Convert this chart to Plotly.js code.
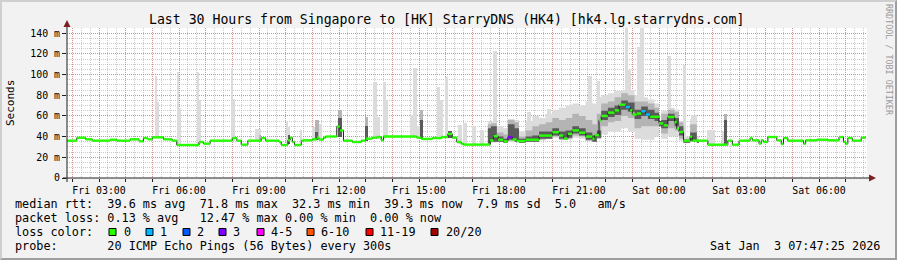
<!DOCTYPE html>
<html><head><meta charset="utf-8">
<script src="https://cdn.plot.ly/plotly-3.0.1.min.js"></script>
<style>
html,body{margin:0;padding:0;background:#f2f2f2;}
#wrap{position:relative;width:897px;height:260px;overflow:hidden;}
#chart{position:absolute;left:0;top:0;width:897px;height:260px;}
#frame{position:absolute;left:0;top:0;width:897px;height:260px;box-sizing:border-box;border-style:solid;border-width:2px;border-color:#cfcfcf #9e9e9e #9e9e9e #cfcfcf;pointer-events:none;}
</style></head><body>
<div id="wrap"><div id="chart"></div><div id="frame"></div></div>
<script>
// ---------- DATA (time = minutes since Fri 2026-01-02 00:00) ----------
const TITLE = 'Last 30 Hours from Singapore to [HK] StarryDNS (HK4) [hk4.lg.starrydns.com]';
const START_MIN = 108, END_MIN = 1908;

// median rtt (ms), step segments starting at medT
const medT = [108,130,150,165,205,220,250,270,280,290,300,325,345,355,405,415,430,480,490,500,515,545,555,
  585,590,605,610,615,620,635,640,660,670,675,685,690,715,722,730,750,770,780,795,805,815,820,895,905,930,950,965,975,985,995,
  1000,1060,1068,1078,1090,1100,1110,1120,1140,1170,1200,1215,1225,1235,1245,1260,1275,1290,1295,1305,1310,1325,1340,1350,
  1365,1375,1380,1390,1400,1410,1420,1440,1450,1460,1475,1480,1485,1495,1510,1515,1550,1595,1605,1620,1645,1650,1665,1670,
  1675,1685,1705,1715,1720,1730,1765,1770,1795,1820,1845,1855,1860,1865,1875,1895,1905];
const medV = [36.1,38.9,37.4,36.1,37.0,36.1,37.4,35.5,38.6,37.4,39.3,37.4,36.1,31.9,34.8,33.2,36.1,38.6,36.1,32.2,36.1,38.6,36.1,
  34.8,31.9,36.4,39.0,34.8,31.9,36.1,36.4,37.4,39.0,37.2,39.0,40.1,49.8,46.0,36.1,34.8,36.1,38.0,39.0,39.6,36.4,40.1,39.0,37.8,38.6,39.6,42.6,39.0,34.8,33.2,
  32.3,36.3,40.4,37.0,35.4,39.4,37.2,35.7,37.0,41.0,44.3,41.0,38.0,42.7,46.0,43.8,40.1,38.0,41.4,55.9,60.0,63.2,65.4,70.9,
  68.6,65.4,61.4,62.4,64.6,61.4,59.2,52.8,50.9,59.0,54.1,47.7,44.5,36.1,40.0,36.1,32.2,36.1,32.2,36.1,38.6,36.4,33.2,36.4,
  34.8,39.6,36.4,32.8,38.6,36.1,33.2,36.4,37.0,36.4,39.6,34.8,33.2,38.6,36.1,39.0,39.0];
// lost pings (of 20) for segments that were not loss-free
const lossT = [1100,1365,1400,1410];
const lossN = [3,1,1,1];

// smoke band in the busy period (ms)
const bandT      = [1055,1062,1075,1090,1100,1115,1125,1140,1155,1170,1185,1200,1215,1230,1245,1260,1275,1290,1300,1310,1325,1340,1355,1370,1385,1400,1415,1430,1440,1445,1460,1475,1485,1495,1510,1525,1530];
const bandLightLo= [33,34,35,34,35,35,34,35,35,37,38,39,37,37,39,38,36,35,38,42,45,45,48,45,38,37,37,40,51,38,40,40,36,34,35,34,34];
const bandLightHi= [55,54,50,48,57,56,45,55,60,58,62,66,68,70,72,70,74,72,78,80,82,84,85,85,80,78,76,72,54,65,68,66,55,40,57,40,40];
const bandMidLo  = [33,35,35,34,36,35,34,35,35,37,38,40,37,38,41,40,36,35,38,50,54,55,60,58,48,50,50,50,50,43,48,46,38,34,35,34,34];
const bandMidHi  = [52,53,44,42,56,54,40,46,50,52,54,58,56,58,62,60,56,52,62,72,74,78,82,80,74,74,72,68,54,62,66,64,54,38,52,37,37];
const bandDarkLo = [33,35,35,34,37,35,34,35,35,38,38,41,38,39,43,41,37,35,39,56,59,61,66,64,57,60,57,55,50,48,55,50,41,34,36,34,34];
const bandDarkHi = [48,50,40,38,52,48,38,40,41,45,45,48,45,46,50,48,44,41,46,65,68,70,75,73,66,69,66,63,55,56,62,58,50,37,44,36,36];

// isolated smoke spikes: start minute, duration (min), low (ms), high (ms)
const lightT = [305,310,355,360,400,405,477,482,530,600,605,632,660,675,797,805,819,826,880,887,895,940,947,958,988,998,1019,1037,1066,1143,1188,1280,1300,1363,1370,1390,1397,1454,1460,1494,1512,1548,1560,1582];
const lightD = [5,5,5,5,5,5,5,5,15,5,5,5,7,7,8,7,7,5,7,8,7,7,7,7,9,9,10,10,9,10,10,9,7,7,8,7,10,6,7,7,13,12,6,6];
const lightLo= [39,39,32,32,32,33,36,36,36,32,34,36,36,37,38,38,38,40,40,40,39,38,38,39,33,33,32,32,36,37,41,40,45,60,60,55,55,45,45,36,36,32,32,32];
const lightHi= [99,73,102,68,102,75,106,76,47,54,49,46,49,52,93,59,93,75,61,106,50,88,75,98,51,53,50,46,123,64,67,99,94,145,104,127,145,62,118,109,61,46,46,45];
const midT  = [667,540,1060,1512,718,778,902,1586];
const midD  = [8,5,5,8,9,7,7,7];
const midLo = [37,36,35,36,40,36,38,33];
const midHi = [56,42,55,56,66,59,66,62];
const darkT = [605,667,718,778,902,965,1586,1512];
const darkD = [5,5,9,7,7,9,7,7];
const darkLo= [33,37,40,36,38,39,33,36];
const darkHi= [42,44,58,50,56,45,56,48];

const yTickVals = [0,20,40,60,80,100,120,140];
const yTickText = ['0','20 m','40 m','60 m','80 m','100 m','120 m','140 m'];
const statRtt  = ['39.6','71.8','32.3','39.3','7.9','5.0'];
const statLoss = ['0.13','12.47','0.00','0.00'];
const lossLabels = ['0','1','2','3','4-5','6-10','11-19','20/20'];
const lossColors = ['#26ff00','#00b8ff','#0059ff','#7e00ff','#ff00ff','#ff5500','#ff0000','#a10000'];
const probeText = '20 ICMP Echo Pings (56 Bytes) every 300s';
const stampText = 'Sat Jan  3 07:47:25 2026';

// ---------- BUILD ----------
const DAY0 = Date.UTC(2026,0,2);
const tm = m => new Date(DAY0 + m*60000).toISOString().replace('T',' ').slice(0,19);
const MONO = 'DejaVu Sans Mono, monospace';
const NB = s => s.replace(/ /g,'\u00a0');
const P = x => (x-67)/800;   // pixel -> paper x
const Q = y => (178-y)/150;  // pixel -> paper y

const traces = [];
function bars(T,D,Lo,Hi,color){
  traces.push({type:'bar', x:T.map((t,i)=>tm(t+D[i]/2)), width:D.map(d=>d*60000),
    base:Lo, y:Hi.map((h,i)=>h-Lo[i]), marker:{color:color, line:{width:0}}, hoverinfo:'skip'});
}
function band(lo,hi,color){
  const x = bandT.map(tm);
  traces.push({type:'scatter', mode:'lines', x:x, y:lo, line:{width:0, shape:'hv'}, hoverinfo:'skip'});
  traces.push({type:'scatter', mode:'lines', x:x, y:hi, line:{width:0, shape:'hv'}, fill:'tonexty', fillcolor:color, hoverinfo:'skip'});
}
const C_LIGHT = '#dcdcdc', C_MID = '#b4b4b4', C_DARK = '#5a5a5a';
bars(lightT,lightD,lightLo,lightHi,C_LIGHT);
band(bandLightLo,bandLightHi,C_LIGHT);
band(bandMidLo,bandMidHi,C_MID);
bars(midT,midD,midLo,midHi,C_MID);
band(bandDarkLo,bandDarkHi,C_DARK);
bars(darkT,darkD,darkLo,darkHi,C_DARK);

// median: thin dark step line + loss-coloured horizontal segments
traces.push({type:'scatter', mode:'lines', x:medT.map(tm), y:medV, line:{color:'#1a1a1a', width:1, shape:'hv'}, hoverinfo:'skip'});
function lossIdx(n){ if(n===0)return 0; if(n<=3)return n; if(n<=5)return 4; if(n<=10)return 5; if(n<=19)return 6; return 7; }
const segs = lossColors.map(()=>({x:[],y:[]}));
for(let i=0;i<medT.length-1;i++){
  const k = lossT.indexOf(medT[i]);
  const c = lossIdx(k<0?0:lossN[k]);
  segs[c].x.push(tm(medT[i]), tm(medT[i+1]), null);
  segs[c].y.push(medV[i], medV[i], null);
}
segs.forEach((s,c)=>{ if(s.x.length) traces.push({type:'scatter', mode:'lines', x:s.x, y:s.y, line:{color:lossColors[c], width:2.4}, connectgaps:false, hoverinfo:'skip'}); });

// x ticks: every hour, labels every 3 hours
const xTickVals = [], xTickText = [];
for(let m=120; m<=1860; m+=60){
  xTickVals.push(tm(m));
  const h = (m/60)%24;
  xTickText.push(h%3===0 ? (m<1440?'Fri ':'Sat ') + String(h).padStart(2,'0') + ':00' : '');
}

const GRID = 'rgba(150,150,150,0.5)', MGRID = 'rgba(235,70,70,0.45)', AXIS = '#1f1f1f';
const ann = (text,x,y,opt={}) => Object.assign({text:NB(text), x:P(x), y:Q(y), xref:'paper', yref:'paper',
  xanchor:'left', yanchor:'middle', showarrow:false, font:{family:MONO,size:11.8,color:'#000'}, borderpad:0}, opt);

const line1 = 'median rtt:  '+statRtt[0]+' ms avg  '+statRtt[1]+' ms max  '+statRtt[2]+' ms min  '+statRtt[3]+' ms now  '+statRtt[4]+' ms sd  '+statRtt[5]+'   am/s';
const line2 = 'packet loss: '+statLoss[0]+' % avg   '+statLoss[1]+' % max '+statLoss[2]+' % min  '+statLoss[3]+' % now';
const line4 = 'probe:       '+probeText;
const boxX = [109,146,183,219,257,307,366,431];
const labX = [122.5,159,195.7,232.3,269.7,320,379,445];

const annotations = [
  ann(line1,14,204.3), ann(line2,14,218.3), ann('loss color:',14,232.3), ann(line4,14,246),
  ann(stampText,881,246,{xanchor:'right'}),
  ann('Seconds',10,103,{xanchor:'center', textangle:-90, font:{family:MONO,size:11,color:'#000'}}),
  ann('RRDTOOL / TOBI OETIKER',889,60,{xanchor:'center', textangle:90, font:{family:MONO,size:8.4,color:'#9a9a9a'}})
];
lossLabels.forEach((l,i)=>annotations.push(ann(l,labX[i],232.3)));

const shapes = [];
boxX.forEach((bx,i)=>shapes.push({type:'rect', xref:'paper', yref:'paper', x0:P(bx), x1:P(bx+7), y0:Q(235.5), y1:Q(228.5),
  line:{color:'#000',width:1}, fillcolor:lossColors[i], layer:'above'}));
// axis extensions and arrows
shapes.push({type:'line', xref:'paper', yref:'paper', x0:P(63), x1:P(870), y0:0, y1:0, line:{color:AXIS,width:1}, layer:'above'});
shapes.push({type:'line', xref:'paper', yref:'paper', x0:0, x1:0, y0:Q(182), y1:Q(26), line:{color:AXIS,width:1}, layer:'above'});
shapes.push({type:'path', xref:'paper', yref:'paper', path:`M${P(869)},${Q(174.5)} L${P(876)},${Q(178)} L${P(869)},${Q(181.5)} Z`, fillcolor:'#7f1f1f', line:{width:0}, layer:'above'});
shapes.push({type:'path', xref:'paper', yref:'paper', path:`M${P(63.5)},${Q(27)} L${P(67)},${Q(20)} L${P(70.5)},${Q(27)} Z`, fillcolor:'#7f1f1f', line:{width:0}, layer:'above'});

const layout = {
  width:897, height:260, margin:{l:67, r:30, t:28, b:82},
  paper_bgcolor:'#f2f2f2', plot_bgcolor:'#ffffff', showlegend:false, barmode:'overlay', bargap:0,
  font:{family:MONO, size:11.8, color:'#000'},
  title:{text:TITLE, font:{family:MONO, size:13.2, color:'#000'}, xref:'container', x:0.498, xanchor:'center', yref:'container', y:1-19/260, yanchor:'middle'},
  xaxis:{type:'date', range:[tm(START_MIN), tm(END_MIN)], tickmode:'array', tickvals:xTickVals, ticktext:xTickText,
    showgrid:true, gridcolor:MGRID, griddash:'1px,1px', gridwidth:1,
    minor:{tick0:tm(0), dtick:20*60000, showgrid:true, gridcolor:GRID, griddash:'1px,1px', gridwidth:1},
    showline:false, zeroline:false, ticks:'outside', ticklen:3, tickcolor:AXIS, tickfont:{family:MONO, size:9.9}, fixedrange:true},
  yaxis:{range:[0,145], tickmode:'array', tickvals:yTickVals, ticktext:yTickText,
    showgrid:true, gridcolor:MGRID, griddash:'1px,1px', gridwidth:1,
    minor:{tick0:0, dtick:5, showgrid:true, gridcolor:GRID, griddash:'1px,1px', gridwidth:1},
    showline:false, zeroline:false, ticks:'outside', ticklen:4, tickcolor:AXIS, tickfont:{family:MONO, size:9.9}, fixedrange:true},
  annotations:annotations, shapes:shapes
};
Plotly.newPlot('chart', traces, layout, {staticPlot:true, displayModeBar:false});
</script></body></html>
